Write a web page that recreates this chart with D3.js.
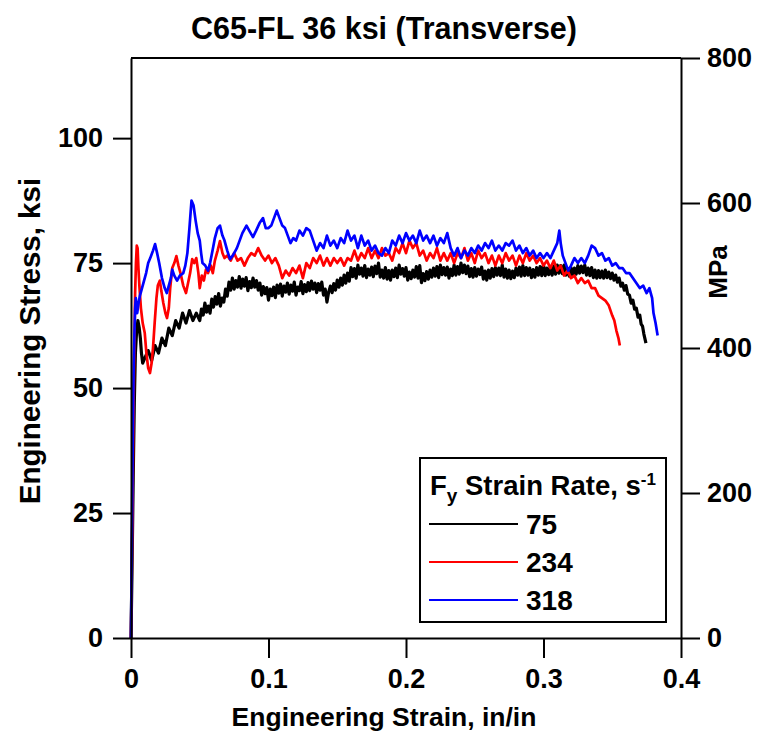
<!DOCTYPE html>
<html><head><meta charset="utf-8">
<script src="https://cdn.jsdelivr.net/npm/d3@7"></script>
<style>body{margin:0;background:#fff}svg text{font-family:"Liberation Sans",Arial,sans-serif;font-weight:bold;fill:#000}</style>
</head><body><svg id="c" width="758" height="732"></svg>
<script>
const title = "C65-FL 36 ksi (Transverse)";
const xTicks = [0, 0.1, 0.2, 0.3, 0.4];
const xTickLabels = ["0", "0.1", "0.2", "0.3", "0.4"];
const yTicks = [0, 25, 50, 75, 100];
const mpaTicks = [0, 200, 400, 600, 800];
const seriesNames = ["75", "234", "318"];
const seriesColors = ["#000000", "#ff0000", "#0000ff"];

// [strain in/in, stress ksi]
const rate75 = [[0,0],[0.0008,15],[0.0016,32],[0.0024,47],[0.0032,57],[0.004,61],[0.005,63.5],[0.006,62],[0.0068,60],[0.0076,57],[0.0085,55],[0.01,56],
[0.0125,57.5],[0.015,55.5],[0.0175,58.5],[0.02,57],[0.0225,60],[0.025,58.5],[0.0275,62],[0.03,60.5],[0.0325,63.5],[0.035,62],[0.0375,65],[0.04,63],[0.0425,65.5],[0.045,63.5],[0.0475,65],
[0.05,63.5],[0.05125,65.8],[0.0525,64.6],[0.05375,67],[0.055,65.2],[0.05625,66.4],[0.0575,65],[0.05875,67.8],[0.06,66.2],[0.06125,68.3],[0.0625,66.8],[0.06375,68.9],[0.065,66.4],[0.06625,68],[0.0675,67.2],[0.06875,69.8],[0.07,68.4],[0.07125,71.2],[0.0725,69.6],[0.07375,72],[0.075,69.8],[0.07625,71.5],[0.0775,70.2],[0.07875,72.3],[0.08,70],[0.08125,71.8],[0.0825,70.4],[0.08375,72.1],[0.085,69.5],[0.08625,71.3],[0.0875,70.1],[0.08875,72],[0.09,70.2],[0.09125,71.5],[0.0925,69.6],[0.09375,71],[0.095,68.6],[0.09625,70.3],[0.0975,68.9],[0.09875,70.1],
[0.1,67.6],[0.10125,69.8],[0.1025,68.5],[0.10375,70.2],[0.105,68.1],[0.10625,70.6],[0.1075,69],[0.10875,70.8],[0.11,68.4],[0.11125,70.4],[0.1125,69.2],[0.11375,71],[0.115,68.8],[0.11625,70.6],[0.1175,69.4],[0.11875,71.2],[0.12,68.6],[0.12125,70.2],[0.1225,69.5],[0.12375,71.3],[0.125,68.9],[0.12625,70.7],[0.1275,69.3],[0.12875,71.1],[0.13,69.5],[0.13125,71.4],[0.1325,69.8],[0.13375,71],[0.135,69.1],[0.13625,70.9],[0.1375,69.6],[0.13875,71.2],[0.14,68.6],[0.14125,69.8],[0.1425,67.2],[0.14375,69.2],[0.145,70.4],[0.14625,69.1],[0.1475,70.9],[0.14875,69.6],
[0.15,71.6],[0.15125,70.2],[0.1525,72],[0.15375,70.6],[0.155,72.6],[0.15625,71],[0.1575,73],[0.15875,71.4],[0.16,74.1],[0.16125,72.3],[0.1625,73.9],[0.16375,72],[0.165,74.6],[0.16625,72.8],[0.1675,74],[0.16875,72.4],[0.17,74.5],[0.17125,72.1],[0.1725,73.8],[0.17375,72.6],[0.175,74.2],[0.17625,72.3],[0.1775,74.4],[0.17875,72.9],[0.18,75],[0.18125,72.2],[0.1825,73.6],[0.18375,72],[0.185,74.1],[0.18625,71.8],[0.1875,73.5],[0.18875,71.6],[0.19,73.6],[0.19125,72.3],[0.1925,74],[0.19375,72.1],[0.195,74.6],[0.19625,72.8],[0.1975,73.9],[0.19875,72.4],
[0.2,74.1],[0.20125,71.6],[0.2025,73.2],[0.20375,71.9],[0.205,73.6],[0.20625,72.2],[0.2075,74.3],[0.20875,72],[0.21,74.5],[0.21125,71.1],[0.2125,72.9],[0.21375,71.5],[0.215,73.3],[0.21625,71.8],[0.2175,73.6],[0.21875,72.2],[0.22,74],[0.22125,72.4],[0.2225,74.3],[0.22375,72.1],[0.225,74.6],[0.22625,72.7],[0.2275,74.1],[0.22875,72.6],[0.23,74.2],[0.23125,72],[0.2325,73.8],[0.23375,72.5],[0.235,74.6],[0.23625,72.6],[0.2375,74.3],[0.23875,72.8],[0.24,75],[0.24125,73.1],[0.2425,74.6],[0.24375,72.9],[0.245,74.4],[0.24625,72.3],[0.2475,73.9],[0.24875,72.2],
[0.25,74.1],[0.25125,72.4],[0.2525,73.8],[0.25375,72.7],[0.255,74.2],[0.25625,71.8],[0.2575,73.4],[0.25875,71.6],[0.26,73.6],[0.26125,72],[0.2625,73.9],[0.26375,72.3],[0.265,74.1],[0.26625,72.6],[0.2675,74],[0.26875,72.5],[0.27,74.6],[0.27125,72.2],[0.2725,73.8],[0.27375,72],[0.275,73.6],[0.27625,71.9],[0.2775,73.4],[0.27875,72.1],[0.28,74],[0.28125,72.6],[0.2825,74.2],[0.28375,72.4],[0.285,74.5],[0.28625,72.5],[0.2875,74.1],[0.28875,72.6],[0.29,74],[0.29125,72.1],[0.2925,73.7],[0.29375,72.2],[0.295,74.1],[0.29625,72.6],[0.2975,74.3],[0.29875,72.5],
[0.3,74.6],[0.30125,72.5],[0.3025,74],[0.30375,72.7],[0.305,74.2],[0.30625,72.6],[0.3075,74.4],[0.30875,72.8],[0.31,74.6],[0.31125,73],[0.3125,74.5],[0.31375,72.9],[0.315,74.6],[0.31625,72.6],[0.3175,73.9],[0.31875,72.4],[0.32,74.1],[0.32125,72.6],[0.3225,74],[0.32375,72.8],[0.325,74.5],[0.32625,73],[0.3275,74.4],[0.32875,73.1],[0.33,74.6],[0.33125,72.6],[0.3325,74],[0.33375,72.5],[0.335,74.1],[0.33625,72.1],[0.3375,73.6],[0.33875,72],[0.34,73.5],[0.34125,72.1],[0.3425,73.4],[0.34375,72],[0.345,73.6],[0.34625,72.1],[0.3475,73.2],[0.34875,71.9],
[0.35,73],[0.35125,71.6],[0.3525,72.6],[0.35375,71.2],[0.355,72],[0.35625,70.4],[0.3575,71],[0.35875,69.6],[0.36,70.5],[0.36125,68.8],[0.3625,68.6],[0.36375,67],[0.365,67.6],[0.36625,65.8],[0.3675,66],[0.36875,64.2],[0.37,64.6],[0.371,62.8],[0.372,62.4],[0.373,60.8],[0.3745,59]];

const rate234 = [[0,0],[0.0006,14],[0.0012,30],[0.0018,45],[0.0024,58],[0.003,69],[0.0036,75],[0.0042,78.5],[0.0048,78],[0.0054,74],[0.0062,70],[0.0072,66],[0.0085,63],[0.01,61],[0.0112,57],[0.0125,54],[0.0138,53],[0.015,55],[0.016,58],[0.0172,63],[0.0185,68],[0.0195,70.5],[0.021,71.5],[0.022,69.5],[0.0235,67],[0.025,65],[0.0262,64],[0.0275,66],[0.0285,70],[0.03,74],[0.0315,75],[0.033,76.4],[0.0345,74.5],[0.036,73],[0.038,70.5],[0.04,69],[0.0415,71],[0.043,73],[0.0445,75.8],[0.046,75],[0.0475,76],[0.049,73],[0.05,70],[0.0515,72.5],[0.053,71.5],[0.0545,73.7],[0.056,73],[0.058,74.5],[0.0595,73],[0.061,75.5],[0.063,77.5],[0.0647,79.4],[0.0665,77],[0.068,76],
[0.07,76.5],[0.0725,75.5],[0.075,77],[0.0775,75.5],[0.08,76],[0.0825,74.5],[0.085,76],[0.0875,77],[0.09,76.5],[0.0925,78],[0.095,76.5],[0.0975,75.5],[0.1,76.5],[0.1025,75],[0.105,76],[0.1075,74.5],[0.11,72],[0.1125,73.5],[0.115,72.5],[0.1175,74],[0.12,73],[0.1225,74.5],[0.125,72],[0.1275,75],[0.13,74],[0.1325,76],[0.135,75],[0.1375,76.5],[0.14,74.5],[0.1425,76],[0.145,74.5],[0.1475,76],[0.15,75],[0.1525,76],[0.155,74.5],[0.1575,76],[0.16,75.5],[0.1625,77.5],[0.165,75.5],[0.1675,77],[0.17,76],[0.1725,78],[0.175,76],[0.1775,77.5],[0.18,76],[0.1825,78],[0.185,76.5],[0.1875,77],[0.19,75.5],[0.1925,78],[0.195,77],[0.1975,79],[0.2,77],
[0.2025,79.5],[0.205,78],[0.2075,79],[0.21,76.5],[0.2125,77.5],[0.215,75.5],[0.2175,77],[0.22,76],[0.2225,78],[0.225,75.5],[0.2275,77],[0.23,75.5],[0.2325,77],[0.235,75],[0.2375,77],[0.24,76],[0.2425,78],[0.245,75.5],[0.2475,77],[0.25,75],[0.2525,77.5],[0.255,76],[0.2575,77],[0.26,75],[0.2625,76.5],[0.265,74.5],[0.2675,76.5],[0.27,75],[0.2725,77],[0.275,75.5],[0.2775,76.5],[0.28,74.5],[0.2825,76.5],[0.285,75],[0.2875,77],[0.29,75.5],[0.2925,76.5],[0.295,75],[0.2975,76],[0.3,74.5],
[0.3025,75.5],[0.305,74],[0.3075,75.5],[0.31,73.5],[0.3125,74.5],[0.315,72.5],[0.3175,73.5],[0.32,72],[0.3225,72.5],[0.325,71],[0.3275,72],[0.33,71],[0.3325,71.5],[0.335,70],[0.3375,70],[0.34,68.5],[0.3425,68],[0.345,67.5],[0.3475,66.5],[0.35,64.5],[0.3515,63.5],[0.353,61.5],[0.3545,60],[0.3555,58.5]];

const rate318 = [[0,0],[0.0004,12],[0.0008,25],[0.0012,37],[0.0016,47],[0.002,55],[0.0025,61],[0.003,66],[0.0035,68],[0.0045,65],[0.0055,67],[0.0065,68.5],[0.008,70],[0.0095,71.5],[0.011,73],[0.0125,75],[0.014,76],[0.016,77.5],[0.0175,78.8],[0.019,77],[0.0205,75],[0.0225,72],[0.0245,70],[0.026,69],[0.0275,70.5],[0.029,72],[0.03,73.7],[0.0315,72.5],[0.0335,71.5],[0.0355,72.5],[0.038,73],[0.0395,74.5],[0.041,77],[0.0425,82],[0.044,87.5],[0.0455,86.5],[0.047,83.5],[0.0485,81],[0.05,79.5],[0.051,77],[0.052,75],[0.054,74.5],[0.056,73.5],[0.0575,75],[0.0595,77.8],[0.061,80],[0.063,82],[0.0647,82.5],[0.0665,80.5],[0.068,79.5],[0.07,77.5],[0.072,75.8],[0.074,76.5],[0.077,78],[0.079,79.5],[0.081,81],[0.084,82.5],[0.086,81.5],[0.0887,80.2],[0.091,81.5],[0.0935,83],[0.096,84],[0.098,82],[0.1,82],
[0.102,82.5],[0.104,84],[0.106,85.5],[0.108,84],[0.11,82.5],[0.112,82],[0.114,80.5],[0.116,79],[0.118,80],[0.12,79.5],[0.1225,81.5],[0.125,80.5],[0.1275,82],[0.13,81.5],[0.1325,79.5],[0.135,77.5],[0.1375,79],[0.14,78],[0.1425,80.5],[0.145,78.5],[0.1475,79.5],[0.15,78],[0.1525,80],[0.155,79],[0.1575,81.5],[0.16,79.5],[0.1625,80.5],[0.165,78],[0.1675,80.5],[0.17,78.5],[0.1725,79.5],[0.175,77.5],[0.1775,78.5],[0.18,77],[0.1825,76.5],[0.185,78],[0.1875,77],[0.19,79.5],[0.1925,78.5],[0.195,80.5],[0.1975,79],[0.2,81],
[0.2025,79.5],[0.205,80.5],[0.2075,79],[0.21,81.5],[0.2125,79.5],[0.215,80.5],[0.2175,79],[0.22,80.5],[0.2225,78.5],[0.225,80],[0.2275,79],[0.23,81],[0.2325,78],[0.235,76.5],[0.2375,78],[0.24,76],[0.2425,77.5],[0.245,76.5],[0.2475,78],[0.25,77],[0.2525,78.5],[0.255,77.5],[0.2575,79],[0.26,78],[0.2625,79.5],[0.265,77.5],[0.2675,78.5],[0.27,77.5],[0.2725,79],[0.275,78.5],[0.2775,79.5],[0.28,77.5],[0.2825,78.5],[0.285,77],[0.2875,78],[0.29,76.5],[0.2925,77.5],[0.295,76],[0.2975,77],[0.3,76],
[0.3025,77],[0.305,76],[0.3075,77.5],[0.31,79],[0.3115,81.5],[0.3125,79],[0.314,76.5],[0.316,75],[0.318,73.5],[0.32,74.5],[0.3225,76],[0.325,75],[0.3275,76],[0.33,75],[0.3325,76.5],[0.335,78.5],[0.3375,78],[0.34,76.5],[0.3425,77],[0.345,75.5],[0.3475,76],[0.35,74.5],[0.3525,75],[0.355,74],[0.3575,74],[0.36,73],[0.3625,73],[0.365,72],[0.3675,71],[0.37,70],[0.3725,70.5],[0.375,69],[0.377,70],[0.379,68],[0.38,65],[0.3815,63],[0.383,60.5]];

const seriesData = [rate75, rate234, rate318];

const svg = d3.select("#c");
const L = 131, R = 681, T = 58, B = 638;
const x = d3.scaleLinear().domain([0, 0.4]).range([L, R]);
const yKsi = d3.scaleLinear().domain([0, 116.03]).range([B, T]);
const yMpa = d3.scaleLinear().domain([0, 800]).range([B, T]);

// title
svg.append("text").attr("x", 384).attr("y", 39).attr("text-anchor", "middle")
  .style("font-size", "30.5px").text(title);

// data lines
const line = d3.line().x(d => x(d[0])).y(d => yKsi(d[1]));
const g = svg.append("g");
[0, 1, 2].forEach(i => {
  g.append("path").datum(seriesData[i]).attr("d", line)
    .attr("fill", "none").attr("stroke", seriesColors[i])
    .attr("stroke-width", i === 0 ? 3.2 : 2.7).attr("stroke-linejoin", "round");
});

// axes
const fs = "27px";
const xAxis = d3.axisBottom(x).tickValues(xTicks).tickFormat((d, i) => xTickLabels[i]).tickSize(20).tickSizeOuter(0).tickPadding(10);
const gx = svg.append("g").attr("transform", `translate(0,${B})`).call(xAxis);
const yAxis = d3.axisLeft(yKsi).tickValues(yTicks).tickSize(18).tickSizeOuter(0).tickPadding(10);
const gy = svg.append("g").attr("transform", `translate(${L},0)`).call(yAxis);
const rAxis = d3.axisRight(yMpa).tickValues(mpaTicks).tickSize(19).tickSizeOuter(0).tickPadding(7);
const gr = svg.append("g").attr("transform", `translate(${R},0)`).call(rAxis);
[gx, gy, gr].forEach(a => {
  a.selectAll("path.domain").attr("stroke", "#000").attr("stroke-width", 2);
  a.selectAll(".tick line").attr("stroke", "#000").attr("stroke-width", 2);
  a.selectAll("text").style("font-size", fs).style("font-family", '"Liberation Sans",Arial,sans-serif').style("font-weight", "bold").attr("fill", "#000");
});
gx.selectAll("text").attr("dy", "0.75em");
// top frame line
svg.append("line").attr("x1", L).attr("x2", R).attr("y1", T).attr("y2", T).attr("stroke", "#000").attr("stroke-width", 2);

// axis titles
svg.append("text").attr("x", 384).attr("y", 726).attr("text-anchor", "middle").style("font-size", "26.5px").text("Engineering Strain, in/in");
svg.append("text").attr("transform", "translate(40,341) rotate(-90)").attr("text-anchor", "middle").style("font-size", "29.5px").text("Engineering Stress, ksi");
svg.append("text").attr("transform", "translate(727,272) rotate(-90)").attr("text-anchor", "middle").style("font-size", "26px").text("MPa");

// legend
const lg = svg.append("g");
lg.append("rect").attr("x", 420).attr("y", 458).attr("width", 246).attr("height", 164).attr("fill", "#fff").attr("stroke", "#000").attr("stroke-width", 2);
const lt = lg.append("text").attr("x", 430).attr("y", 495).style("font-size", "27.5px");
lt.append("tspan").text("F");
lt.append("tspan").attr("dy", 7).style("font-size", "19px").text("y");
lt.append("tspan").attr("dy", -7).text(" Strain Rate, s");
lt.append("tspan").attr("dy", -10).style("font-size", "17px").text("-1");
const ly = [524, 562, 600];
seriesNames.forEach((n, i) => {
  lg.append("line").attr("x1", 429).attr("x2", 518).attr("y1", ly[i]).attr("y2", ly[i]).attr("stroke", seriesColors[i]).attr("stroke-width", 2);
  lg.append("text").attr("x", 526).attr("y", ly[i] + 10).style("font-size", "28px").text(n);
});
</script></body></html>
